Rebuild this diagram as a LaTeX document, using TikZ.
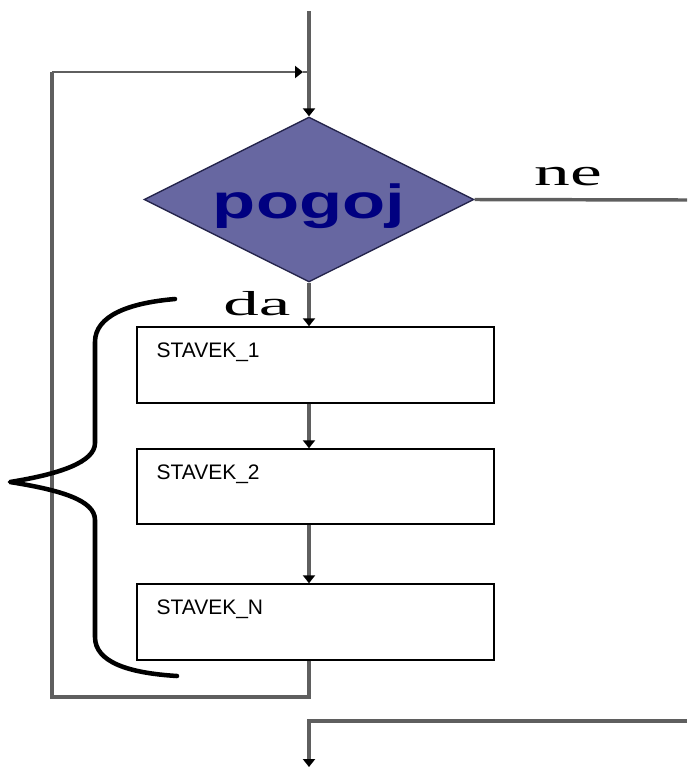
\documentclass[tikz,border=0pt]{standalone}
\usepackage{fontspec}
\setmainfont{Liberation Serif}
\newfontfamily\arialfont{Liberation Sans}
\usetikzlibrary{arrows.meta,shapes.geometric}
\definecolor{linegray}{HTML}{5F5F5F}
\definecolor{condfill}{HTML}{6767A1}
\definecolor{condedge}{HTML}{23234A}
\definecolor{condtext}{HTML}{000080}
\begin{document}
\begin{tikzpicture}[x=0.75pt,y=-0.75pt,
  flow/.style={draw=linegray,line width=2.6pt},
  thinflow/.style={draw=linegray,line width=1.8pt},
  tip/.style={-{Triangle[width=9pt,length=6pt,color=black]}},
  cond/.style={diamond,draw=condedge,fill=condfill,line width=1pt,
    minimum width=247.5pt,minimum height=123.75pt,inner sep=0pt},
  condlabel/.style={inner sep=0pt,anchor=base,text=condtext,
    font=\arialfont\bfseries\fontsize{36}{40}\selectfont},
  stmtbox/.style={draw=black,line width=1.1pt,fill=white,
    minimum width=267.75pt,inner sep=0pt},
  stmtlabel/.style={inner sep=0pt,anchor=north west,
    font=\arialfont\fontsize{15.75}{18}\selectfont},
  branchlabel/.style={inner sep=0pt,anchor=base},
  brace/.style={draw=black,line width=3.4pt,line join=round,line cap=round}
]
\useasboundingbox (0,0) rectangle (687,768);

% condition
\node[cond] (d) at (309,199.5) {};
\node[condlabel] (dl) at (309,218) {\scalebox{1.47}[1]{pogoj}};

% loop body
\node[stmtbox,minimum height=57pt] (s1) at (315.5,365) {};
\node[stmtbox,minimum height=56.25pt] (s2) at (315.5,486.5) {};
\node[stmtbox,minimum height=57pt] (s3) at (315.5,622) {};
\node[stmtlabel] (s1l) at ([shift={(20,16)}]s1.north west) {STAVEK\_1};
\node[stmtlabel] (s2l) at ([shift={(20,16)}]s2.north west) {STAVEK\_2};
\node[stmtlabel] (s3l) at ([shift={(20,16)}]s3.north west) {STAVEK\_N};

% branch labels
\node[branchlabel,font=\fontsize{29}{32}\selectfont] (ne) at (568,185) {\scalebox{1.85}[1]{ne}};
\node[branchlabel,font=\fontsize{26}{30}\selectfont] (da) at (257,315) {\scalebox{2.05}[1]{da}};

% free ends of connectors
\coordinate (top) at (309,11);
\coordinate (exitR) at (687,200);
\coordinate (lb) at (309,697);
\coordinate (ll) at (52,697);
\coordinate (lt) at (52,72);
\coordinate (la) at (303,72);
\coordinate (lj) at (309,72);
\coordinate (er) at (687,721);
\coordinate (ej) at (309,721);
\coordinate (eb) at (309,767);

% connectors
\draw[flow,tip] (top) -- (d.north);
\draw[flow] (d.east) -- (exitR);
\draw[flow,tip] (d.south) -- (d.south |- s1.north);
\draw[flow,tip] (d.south |- s1.south) -- (d.south |- s2.north);
\draw[flow,tip] (d.south |- s2.south) -- (d.south |- s3.north);
\draw[flow] (d.south |- s3.south) -- (lb) -- (ll) -- (lt);
\draw[thinflow,tip] (lt) -- (la);
\draw[thinflow] (la) -- (lj);
\draw[flow,tip] (er) -- (ej) -- (eb);

% brace spanning the loop body
\draw[brace] (175,299) .. controls (128,303) and (95,316) .. (95,342)
  -- (95,443) .. controls (95,462) and (60,474) .. (10,482)
  .. controls (60,490) and (95,500) .. (95,520)
  -- (95,637) .. controls (95,662) and (128,673) .. (177,676);
\end{tikzpicture}
\end{document}
